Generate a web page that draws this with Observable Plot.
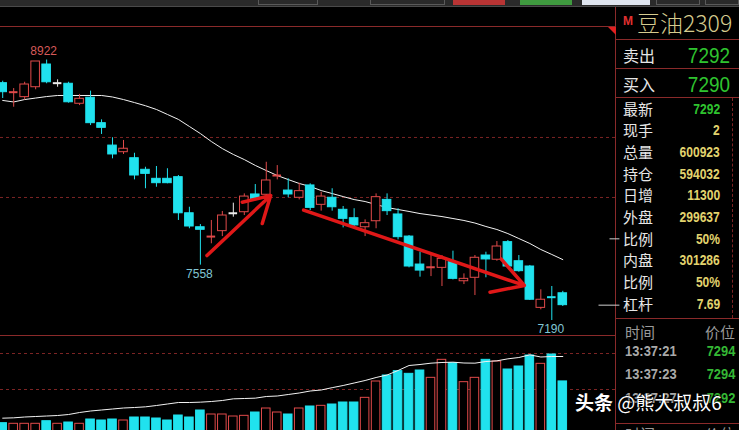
<!DOCTYPE html>
<html>
<head>
<meta charset="utf-8">
<script src="https://cdn.jsdelivr.net/npm/d3@7"></script>
<script src="https://cdn.jsdelivr.net/npm/@observablehq/plot@0.6"></script>
<style>
  html, body { margin: 0; padding: 0; background: #000; }
  #wrap { position: relative; width: 739px; height: 430px; overflow: hidden; background: #000;
          font-family: "Noto Sans CJK SC", "Noto Sans", sans-serif; }
  .abs { position: absolute; }
  .hl { position: absolute; height: 1px; background: #8a2a2a; }
  .vl { position: absolute; width: 1px; background: #8a2a2a; }
  #topbar { left: 0; top: 0; width: 739px; height: 6px; background: #2a2a2a; border-bottom: 1px solid #4a4a4a; }
  .btn { position: absolute; top: 0; height: 5px; box-sizing: border-box; }
  #panel { left: 616px; top: 7px; width: 123px; height: 423px; }
  .lab { position: absolute; left: 7px; color: #e6e6e6; font-size: 15px; line-height: 1; }
  .val { position: absolute; right: 19px; font-family: "Liberation Sans", Arial, sans-serif; font-weight: bold;
         font-size: 14px; line-height: 1; color: #e2d36e; }
  .num { display: inline-block; transform: scaleX(0.86); transform-origin: right center; }
  .big { position: absolute; right: 9px; font-family: "Liberation Sans", Arial, sans-serif; font-size: 22px;
         line-height: 1; color: #2fc42f; }
  .tt { position: absolute; left: 9px; font-family: "Liberation Sans", Arial, sans-serif; font-weight: bold;
        font-size: 15px; line-height: 1; color: #a9a9a9; }
  .tp { position: absolute; right: 4px; font-family: "Liberation Sans", Arial, sans-serif; font-weight: bold;
        font-size: 15px; line-height: 1; color: #35b835; }
  .th { position: absolute; color: #9a9a9a; font-size: 15px; line-height: 1; }
  #price, #vol { position: absolute; left: 0; }
  #price { top: 0; z-index: 2; }
  #vol { top: 335px; z-index: 2; }
  #mark { position: absolute; left: 575px; top: 392px; z-index: 5; color: #fff; font-size: 19px; line-height: 1;
          text-shadow: 0 0 2px #000, 0 0 3px #000; white-space: nowrap; }
</style>
</head>
<body>
<div id="wrap">
  <div id="topbar" class="abs">
    <div class="btn" style="left:258px;width:60px;border:1px solid #5a5a5a;border-top:none;"></div>
    <div class="btn" style="left:370px;width:75px;border:1px solid #5a5a5a;border-top:none;"></div>
    <div class="btn" style="left:453px;width:52px;background:#b83434;"></div>
    <div class="btn" style="left:520px;width:52px;background:#3f9a3f;"></div>
    <div class="btn" style="left:582px;width:68px;background:#dfe5ef;"></div>
    <div class="btn" style="left:656px;width:44px;border:1px solid #5a5a5a;border-top:none;"></div>
    <div class="btn" style="left:705px;width:34px;border:1px solid #5a5a5a;border-top:none;"></div>
  </div>
  <div class="hl" style="left:0;top:26px;width:616px;"></div>
  <div class="hl" style="left:0;top:335px;width:616px;"></div>
  <div class="vl" style="left:615px;top:7px;height:423px;"></div>
  <svg class="abs" style="left:608px;top:27px;z-index:3" width="9" height="9"><polygon points="0,0 8,0 8,8" fill="#e02020"/></svg>
  <div id="panel" class="abs"></div>
  <div id="price"></div>
  <div id="vol"></div>
  <div id="mark"><b>头条</b> @熊大叔叔6</div>
</div>
<script>
// Daily candles of 豆油2309 (soybean oil), oldest first
const opens  = [8768, 8708, 8675, 8741, 8892, 8768, 8764, 8631, 8671, 8502, 8353, 8309, 8269, 8192, 8132, 8132, 8143, 7903, 7810, 7748, 7784, 7903, 7910, 8028, 8026, 8154, 8054, 8006, 8088, 7959, 8006, 7926, 7870, 7810, 7850, 7992, 7895, 7748, 7562, 7544, 7540, 7578, 7451, 7474, 7622, 7594, 7711, 7584, 7549, 7274, 7345, 7371];
const highs  = [8781, 8732, 8774, 8912, 8922, 8790, 8774, 8693, 8715, 8524, 8405, 8387, 8302, 8209, 8214, 8199, 8154, 7943, 7828, 7855, 7915, 7970, 8032, 8094, 8242, 8220, 8132, 8103, 8099, 8043, 8066, 7948, 7933, 7859, 8032, 8032, 7933, 7755, 7644, 7629, 7622, 7651, 7500, 7622, 7644, 7715, 7722, 7622, 7556, 7394, 7416, 7384];
const lows   = [8666, 8608, 8657, 8724, 8764, 8741, 8635, 8619, 8486, 8427, 8265, 8294, 8125, 8066, 8076, 8099, 7855, 7800, 7558, 7700, 7748, 7877, 7888, 7992, 8014, 8125, 8006, 7992, 7921, 7917, 7917, 7806, 7806, 7748, 7800, 7888, 7726, 7540, 7478, 7482, 7416, 7460, 7429, 7356, 7474, 7584, 7540, 7511, 7323, 7261, 7190, 7283];
const closes = [8708, 8708, 8759, 8912, 8774, 8768, 8641, 8664, 8502, 8471, 8294, 8332, 8154, 8165, 8103, 8103, 7903, 7815, 7793, 7748, 7888, 7903, 8014, 7996, 8121, 8154, 8028, 8050, 7939, 8014, 7943, 7866, 7822, 7837, 8010, 7917, 7744, 7549, 7522, 7544, 7600, 7467, 7467, 7607, 7596, 7682, 7549, 7518, 7328, 7328, 7345, 7292];
// u = rising (red), d = falling (cyan), f = unchanged (white)
const sides  = ["d","u","u","u","d","f","d","u","d","d","d","u","d","d","d","d","d","d","d","u","u","f","u","d","u","u","d","u","d","u","d","d","d","u","u","d","d","d","d","u","u","d","u","u","d","u","d","d","d","u","d","d"];
// moving average line
const maLine = [8653, 8643, 8659, 8669, 8679, 8686, 8686, 8686, 8686, 8686, 8676, 8659, 8639, 8618, 8593, 8560, 8527, 8480, 8433, 8380, 8333, 8294, 8260, 8221, 8187, 8154, 8127, 8101, 8081, 8054, 8034, 8014, 7994, 7981, 7961, 7941, 7928, 7915, 7901, 7891, 7881, 7868, 7855, 7838, 7815, 7795, 7768, 7735, 7702, 7662, 7629, 7595];
// volume (lots) and open-interest line of the lower panel
const volumes = [100000, 92400, 92400, 92400, 123600, 92400, 108000, 92400, 144000, 132000, 144000, 132000, 168000, 168000, 156000, 132000, 192000, 168000, 252000, 204000, 204000, 180000, 188000, 228000, 276000, 228000, 204000, 276000, 300000, 308000, 324000, 348000, 348000, 404000, 600000, 672000, 724000, 692000, 732000, 644000, 860000, 820000, 592000, 644000, 860000, 840000, 744000, 780000, 912000, 812000, 924000, 600923];
const oiLine = [160000, 164000, 174000, 180000, 186000, 192000, 204000, 228000, 246000, 258000, 270000, 282000, 288000, 296000, 312000, 330000, 348000, 348000, 352000, 360000, 372000, 392000, 396000, 400000, 420000, 426000, 444000, 462000, 486000, 498000, 526000, 552000, 582000, 612000, 648000, 678000, 732000, 792000, 804000, 820000, 828000, 832000, 822000, 820000, 840000, 848000, 872000, 888000, 920000, 894000, 900000, 900000];

// bars whose extreme is written on the chart
const markHigh = [4];
const markLow = [18, 50];
// dashed price grid and volume grid levels
const priceGrid = [8407, 8008];
const volGrid = [936000, 504000];
// right-edge price markers: an axis tick and the last price
const priceTicks = [7733];
const lastPrice = 7292;
// hand-drawn trend arrows (bar index, price)
const arrowFromBar = [18.6, 27.4];
const arrowFromPrice = [7622, 7924];
const arrowToBar = [24.4, 47.5];
const arrowToPrice = [8021, 7423];

// quote panel
const contractName = "豆油2309";
const bookLabels = ["卖出", "买入"];
const bookPrices = ["7292", "7290"];
const quoteLabels = ["最新", "现手", "总量", "持仓", "日增", "外盘", "比例", "内盘", "比例", "杠杆"];
const quoteValues = ["7292", "2", "600923", "594032", "11300", "299637", "50%", "301286", "50%", "7.69"];
const tradeTimes = ["13:37:21", "13:37:23", "13:37:27"];
const tradePrices = ["7294", "7294", "7292"];

const UP = "#e04a4a", DOWN = "#20e2ee", FLAT = "#ececec";
const n = opens.length;
const bars = d3.range(n).map(i => ({
  i, o: opens[i], h: highs[i], l: lows[i], c: closes[i], side: sides[i],
  ma: maLine[i], vol: volumes[i], oi: oiLine[i]
}));
const colorOf = d => d.side === "u" ? UP : d.side === "d" ? DOWN : FLAT;
const volColorOf = d => d.side === "d" ? DOWN : UP;
const half = 0.39;
const xDomain = [-0.2, 55.8];
const xBase = {domain: xDomain, axis: null};

const arrows = arrowFromBar.map((x, k) => ({x1: x, y1: arrowFromPrice[k], x2: arrowToBar[k], y2: arrowToPrice[k]}));

const priceChart = Plot.plot({
  width: 739, height: 335,
  marginLeft: 0, marginRight: 124, marginTop: 59.5, marginBottom: 15,
  x: xBase,
  y: {domain: [7190, 8922], axis: null},
  style: {background: "transparent", overflow: "visible", fontFamily: "Liberation Sans, Arial, sans-serif"},
  marks: [
    Plot.ruleY(priceGrid, {stroke: "#7c2424", strokeDasharray: "3,3"}),
    Plot.line(bars, {x: "i", y: "ma", stroke: "#f2f2f2", strokeWidth: 1}),
    Plot.ruleX(bars, {x: "i", y1: "l", y2: "h", stroke: colorOf, strokeWidth: 1}),
    Plot.rect(bars.filter(d => d.o !== d.c), {
      x1: d => d.i - half, x2: d => d.i + half, y1: "o", y2: "c",
      fill: d => d.side === "u" ? "#000" : colorOf(d), stroke: colorOf, strokeWidth: 1
    }),
    Plot.ruleY(bars.filter(d => d.o === d.c), {
      y: "o", x1: d => d.i - half, x2: d => d.i + half, stroke: colorOf, strokeWidth: 2
    }),
    Plot.text(markHigh.map(i => bars[i]), {
      x: "i", y: "h", text: d => String(d.h), dy: -9, dx: -3, fill: "#d65a5a", fontSize: 12
    }),
    Plot.text(markLow.map(i => bars[i]), {
      x: "i", y: "l", text: d => String(d.l), dy: 9, dx: -1, fill: "#80c6d4", fontSize: 12
    }),
    Plot.arrow(arrows, {x1: "x1", y1: "y1", x2: "x2", y2: "y2", stroke: "#e01818", strokeWidth: 3.5, headLength: 15}),
    Plot.ruleY(priceTicks, {x1: xDomain[1] - 0.5, x2: xDomain[1] + 0.4, stroke: "#cfcfcf"}),
    Plot.ruleY([lastPrice], {x1: xDomain[1] - 1.5, x2: xDomain[1] + 0.4, stroke: "#cfcfcf"})
  ]
});
document.getElementById("price").append(priceChart);

const volChart = Plot.plot({
  width: 739, height: 100,
  marginLeft: 0, marginRight: 124, marginTop: 0, marginBottom: 4,
  x: xBase,
  y: {domain: [0, 1152000], axis: null},
  style: {background: "transparent", overflow: "visible"},
  marks: [
    Plot.ruleY(volGrid, {stroke: "#7c2424", strokeDasharray: "3,3"}),
    Plot.rect(bars, {
      x1: d => d.i - half, x2: d => d.i + half, y1: 0, y2: "vol",
      fill: d => d.side === "d" ? DOWN : "#000", stroke: volColorOf, strokeWidth: 1
    }),
    Plot.line(bars, {x: "i", y: "oi", stroke: "#f2f2f2", strokeWidth: 1})
  ]
});
document.getElementById("vol").append(volChart);

// quote panel
const panel = document.getElementById("panel");
function add(cls, text, top, extra) {
  const el = document.createElement("div");
  el.className = cls;
  el.style.top = top + "px";
  if (extra) Object.assign(el.style, extra);
  el.innerHTML = text;
  panel.append(el);
  return el;
}
function hline(top) { add("hl", "", top, {left: "0px", width: "123px"}); }
// panel top coordinates are relative to y = 7
add("abs", "M", 8, {left: "7px", color: "#e03030", fontFamily: "Liberation Sans, Arial, sans-serif", fontWeight: "bold", fontSize: "12px", lineHeight: "1"});
add("abs", contractName, 2, {left: "21px", color: "#d6cb8e", fontSize: "23px", lineHeight: "1.2", fontWeight: "300", whiteSpace: "nowrap"});
hline(32);
bookLabels.forEach((lab, k) => {
  const top = 40 + k * 29;
  add("lab", lab, top, {fontSize: "16px"});
  add("big", `<span class="num">${bookPrices[k]}</span>`, top - 2);
});
hline(61);
hline(90);
add("abs", "", 91, {left: "116px", width: "0px", height: "220px", borderLeft: "1px dashed #7c2424"});
quoteLabels.forEach((lab, k) => {
  const cy = 101.5 + k * 21.7;
  add("lab", lab, cy - 8);
  add("val", `<span class="num">${quoteValues[k]}</span>`, cy - 7, k === 0 ? {color: "#2fc42f"} : null);
});
hline(311);
add("th", "时间", 317, {left: "9px"});
add("th", "价位", 317, {right: "4px"});
tradeTimes.forEach((t, k) => {
  const cy = 343 + k * 23.3;
  add("tt", `<span class="num" style="transform-origin:left center">${t}</span>`, cy - 7);
  add("tp", `<span class="num">${tradePrices[k]}</span>`, cy - 7);
});
hline(416);
add("th", "时间", 419, {left: "9px"});
add("th", "价位", 419, {right: "4px"});
</script>
</body>
</html>
